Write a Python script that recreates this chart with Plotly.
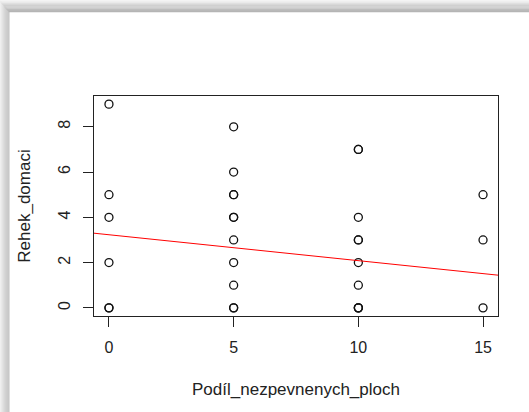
import numpy as np
import plotly.graph_objects as go

# Observations: share of unpaved area vs. count of the black redstart
podil = [0, 0, 0, 0, 0, 0,
         5, 5, 5, 5, 5, 5, 5, 5, 5, 5, 5,
         10, 10, 10, 10, 10, 10, 10, 10, 10, 10,
         15, 15, 15]
rehek = [9, 5, 4, 2, 0, 0,
         8, 6, 5, 5, 4, 4, 3, 2, 1, 0, 0,
         7, 7, 4, 3, 3, 2, 1, 0, 0, 0,
         5, 3, 0]

# Fitted linear model: Rehek_domaci ~ Podil_nezpevnenych_ploch
fit_intercept = 3.23
fit_slope = -0.1145

x_ticks = [0, 5, 10, 15]
y_ticks = [0, 2, 4, 6, 8]

# R-style 4% padding around the data range
def padded(lo, hi, frac=0.04):
    d = (hi - lo) * frac
    return [lo - d, hi + d]

x_range = padded(min(podil), max(podil))
y_range = padded(min(rehek), max(rehek))

line_x = np.array(x_range)
line_y = fit_intercept + fit_slope * line_x

FONT = "Liberation Sans, Arial, sans-serif"

fig = go.Figure()
fig.add_trace(go.Scatter(
    x=podil, y=rehek, mode="markers",
    marker=dict(symbol="circle-open", size=8, color="#111111",
                line=dict(width=1.3, color="#111111")),
    hoverinfo="x+y", showlegend=False,
))
fig.add_trace(go.Scatter(
    x=line_x, y=line_y, mode="lines",
    line=dict(color="#ff0000", width=1), showlegend=False,
))

# Gray drop-shadow frame along the top and left edges of the page
shade = ["#f0f0f0", "#e8e8e8", "#e0e0e0", "#d8d8d8", "#d0d0d0",
         "#c8c8c8", "#c2c2c2", "#bdbdbd", "#b9b9b9", "#b5b5b5"]
W, H = 529, 412
L, R, T, B = 94.4, 31.4, 95.7, 96.3
pw, ph = W - L - R, H - T - B

def px_to_paper_x(px):
    return (px - L) / pw

def px_to_paper_y(py):
    return 1 - (py - T) / ph

shapes = []
n = len(shade)
for i, c in enumerate(shade):
    # top band, 12 px tall
    y0 = i * 12 / n
    y1 = (i + 1) * 12 / n
    shapes.append(dict(type="rect", xref="paper", yref="paper", layer="below",
                       x0=px_to_paper_x(i * 10 / n), x1=px_to_paper_x(W + 5),
                       y0=px_to_paper_y(y0), y1=px_to_paper_y(y1),
                       fillcolor=c, line=dict(width=0)))
    # left band, 10 px wide
    x0 = i * 10 / n
    x1 = (i + 1) * 10 / n
    shapes.append(dict(type="rect", xref="paper", yref="paper", layer="below",
                       x0=px_to_paper_x(x0), x1=px_to_paper_x(x1),
                       y0=px_to_paper_y(i * 12 / n), y1=px_to_paper_y(H + 5),
                       fillcolor=c, line=dict(width=0)))

axis_common = dict(
    showgrid=False, zeroline=False, showline=True, mirror=True,
    linecolor="#222222", linewidth=1,
    ticks="outside", ticklen=10, tickwidth=1, tickcolor="#222222",
    ticklabelstandoff=7,
    tickfont=dict(family=FONT, size=16, color="#222222"),
)

fig.update_layout(
    width=W, height=H,
    margin=dict(l=L, r=R, t=T, b=B, pad=0),
    paper_bgcolor="white", plot_bgcolor="white",
    shapes=shapes,
    xaxis=dict(range=x_range, tickvals=x_ticks, ticktext=[str(v) for v in x_ticks],
               title=dict(text="Podíl_nezpevnenych_ploch", standoff=27,
                          font=dict(family=FONT, size=17, color="#222222")),
               **axis_common),
    yaxis=dict(range=y_range, tickvals=y_ticks, ticktext=[str(v) for v in y_ticks],
               tickangle=-90,
               title=dict(text="Rehek_domaci", standoff=20,
                          font=dict(family=FONT, size=17, color="#222222")),
               **axis_common),
)

fig.write_html("out.html")
